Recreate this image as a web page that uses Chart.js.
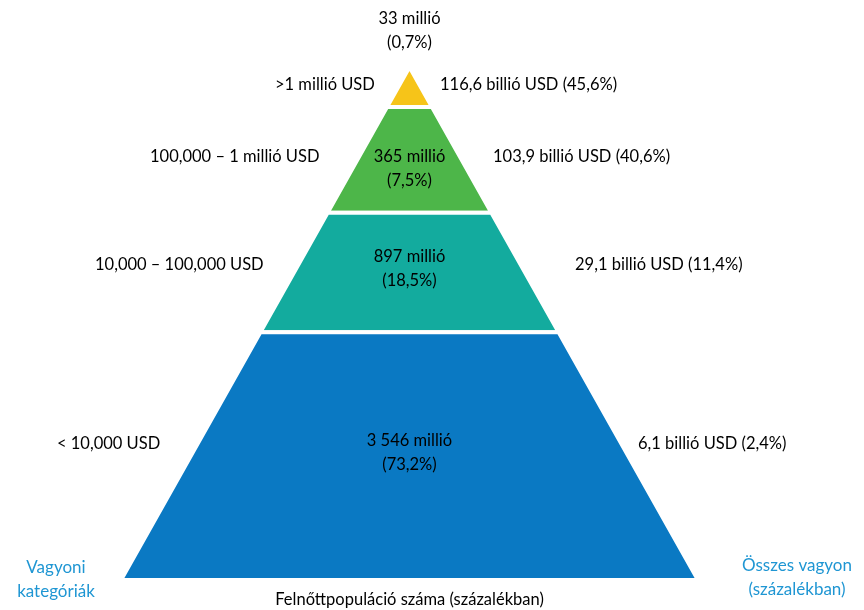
<!DOCTYPE html>
<html>
<head>
<meta charset="utf-8">
<script src="https://cdn.jsdelivr.net/npm/chart.js@4/dist/chart.umd.min.js"></script>
<style>
  body { margin: 0; background: #fff; }
  #wrap { width: 864px; height: 610px; }
</style>
</head>
<body>
<div id="wrap"><canvas id="canvas" width="864" height="610"></canvas></div>
<script>
// wealth categories, bottom to top
const categories = ['< 10,000 USD', '10,000 – 100,000 USD', '100,000 – 1 millió USD', '>1 millió USD'];
const adults = ['3 546 millió', '897 millió', '365 millió', '33 millió'];
const adultShare = ['(73,2%)', '(18,5%)', '(7,5%)', '(0,7%)'];
const wealth = ['6,1 billió USD (2,4%)', '29,1 billió USD (11,4%)', '103,9 billió USD (40,6%)', '116,6 billió USD (45,6%)'];
const bandColors = ['#0a79c3', '#13ab9e', '#4db649', '#f6c419'];

// band edges on a 0 (base) .. 100 (apex) scale
const bandEdges = [0, 48.3, 71.6, 92.2, 100];

// label placement (layout only)
const sideLevels = [26.5, 61.5, 82.5, 96.5];
const leftX = [57, 95, 150, 275];
const rightX = [638, 575, 493, 440];
const midNudge = [-3, -4, 9];

function halfWidth(v) {
    return 50 * (100 - v) / 100;
}

// build one closed polygon per band
const datasets = categories.map((c, i) => {
    const lo = bandEdges[i], hi = bandEdges[i + 1];
    return {
        label: c,
        data: [
            {x: -halfWidth(lo), y: lo},
            {x: halfWidth(lo), y: lo},
            {x: halfWidth(hi), y: hi},
            {x: -halfWidth(hi), y: hi},
            {x: -halfWidth(lo), y: lo}
        ],
        showLine: true,
        fill: 'shape',
        backgroundColor: bandColors[i],
        borderColor: '#ffffff',
        borderWidth: 4,
        pointRadius: 0,
        tension: 0
    };
});

const FONT = '16.5px Lato';
const labelPlugin = {
    id: 'pyramidLabels',
    afterDatasetsDraw(chart) {
        const ctx = chart.ctx;
        const xs = chart.scales.x, ys = chart.scales.y;
        const cx = xs.getPixelForValue(0);
        ctx.save();
        ctx.font = FONT;
        ctx.fillStyle = '#000';
        ctx.textBaseline = 'middle';

        for (let i = 0; i < categories.length; i++) {
            const sy = ys.getPixelForValue(sideLevels[i]);
            ctx.textAlign = 'left';
            ctx.fillText(categories[i], leftX[i], sy);
            ctx.fillText(wealth[i], rightX[i], sy);

            ctx.textAlign = 'center';
            if (i < 3) {
                const my = ys.getPixelForValue((bandEdges[i] + bandEdges[i + 1]) / 2) + midNudge[i];
                ctx.fillText(adults[i], cx, my - 12);
                ctx.fillText(adultShare[i], cx, my + 12);
            } else {
                ctx.fillText(adults[i], cx, 19);
                ctx.fillText(adultShare[i], cx, 43);
            }
        }

        // axis captions
        ctx.textAlign = 'center';
        ctx.fillText('Felnőttpopuláció száma (százalékban)', cx, 600);
        ctx.fillStyle = '#1f96d3';
        ctx.font = '17px Lato';
        ctx.fillText('Vagyoni', 56, 568);
        ctx.fillText('kategóriák', 56, 592);
        ctx.fillText('Összes vagyon', 797, 566);
        ctx.fillText('(százalékban)', 797, 590);
        ctx.restore();
    }
};

new Chart(document.getElementById('canvas').getContext('2d'), {
    type: 'scatter',
    data: { datasets: datasets },
    options: {
        responsive: false,
        animation: false,
        layout: { padding: { left: 121, right: 166, top: 67, bottom: 30 } },
        scales: {
            x: { type: 'linear', min: -50, max: 50, display: false },
            y: { type: 'linear', min: 0, max: 100, display: false }
        },
        plugins: {
            legend: { display: false },
            tooltip: { enabled: false }
        }
    },
    plugins: [labelPlugin]
});
</script>
</body>
</html>
